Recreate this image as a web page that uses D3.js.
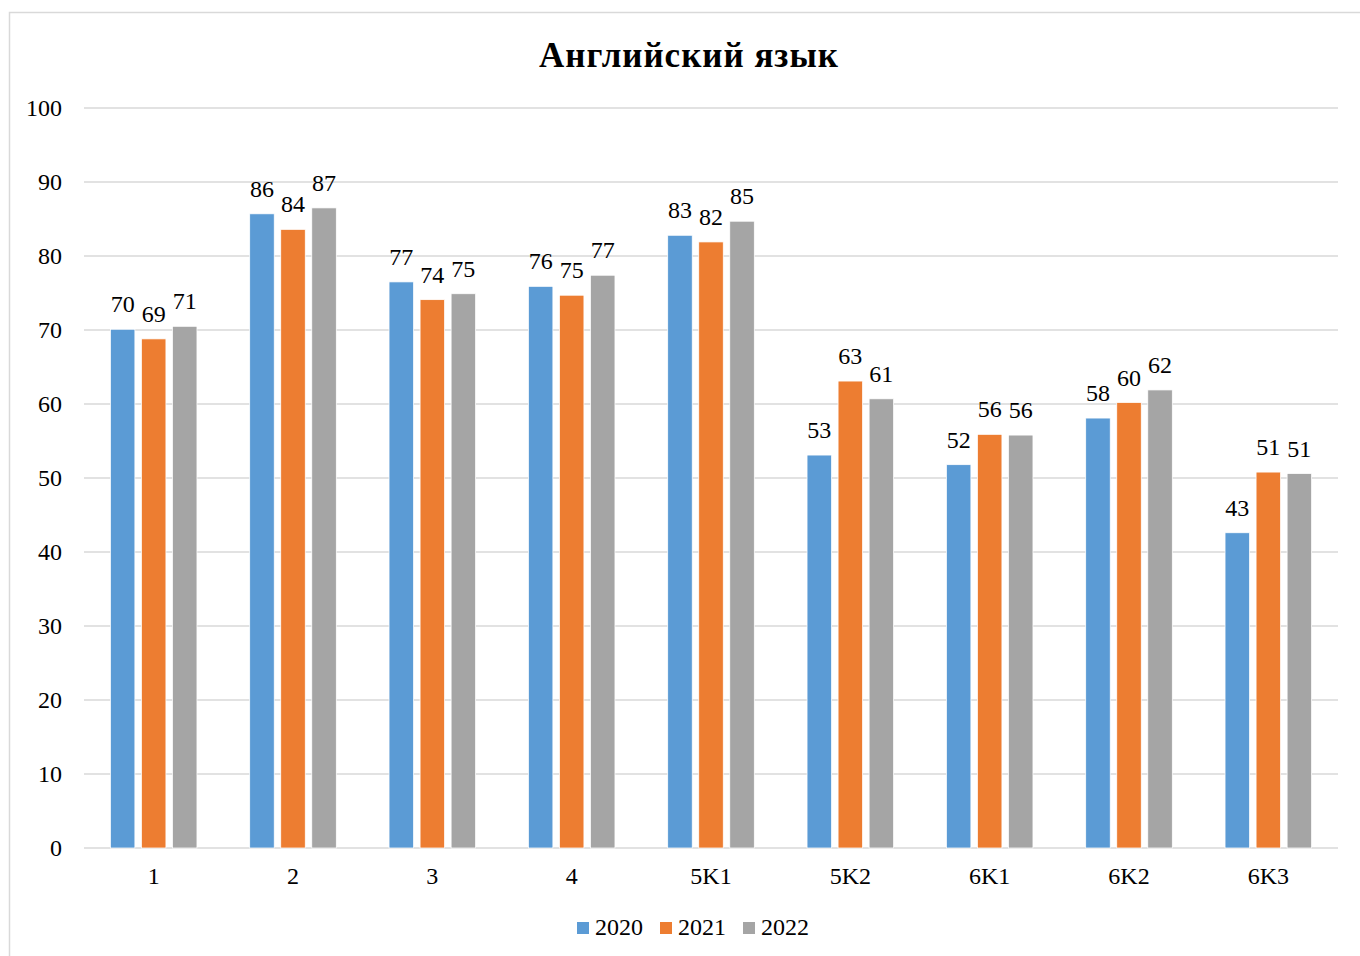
<!DOCTYPE html>
<html>
<head>
<meta charset="utf-8">
<script src="https://cdn.jsdelivr.net/npm/d3@7"></script>
<style>
  body { margin: 0; background: #fff; }
  svg { display: block; }
</style>
</head>
<body>
<div id="chart"></div>
<script>
// chart data
var categories = ["1", "2", "3", "4", "5K1", "5K2", "6K1", "6K2", "6K3"]
var years = ["2020", "2021", "2022"]
var values2020 = [70.1, 85.7, 76.5, 75.9, 82.8, 53.1, 51.8, 58.1, 42.6]
var values2021 = [68.8, 83.6, 74.1, 74.7, 81.9, 63.1, 55.9, 60.2, 50.8]
var values2022 = [70.5, 86.5, 74.9, 77.4, 84.7, 60.7, 55.8, 61.9, 50.6]
var yTicks = [0, 10, 20, 30, 40, 50, 60, 70, 80, 90, 100]
var colors = ["#5B9BD5", "#ED7D31", "#A5A5A5"]
var title = "Английский язык"

var width = 1360
var height = 956
var font = "'Liberation Serif', 'Times New Roman', serif"

var svg = d3.select("#chart")
  .append("svg")
  .attr("width", width)
  .attr("height", height)

// outer chart border
svg.append("rect")
  .attr("x", 9.5)
  .attr("y", 12.5)
  .attr("width", 1400)
  .attr("height", 1000)
  .attr("fill", "#fff")
  .attr("stroke", "#d9d9d9")
  .attr("stroke-width", 1.5)

// title
svg.append("text")
  .attr("x", 689)
  .attr("y", 67)
  .attr("text-anchor", "middle")
  .attr("font-family", font)
  .attr("font-size", "35px")
  .attr("letter-spacing", "1px")
  .attr("font-weight", "bold")
  .text(title)

// scales
var x0 = d3.scaleBand()
  .domain(categories)
  .range([84, 1338])

var x1 = d3.scaleBand()
  .domain(years)
  .range([0, x0.bandwidth()])
  .paddingInner(0.21)
  .paddingOuter(0.85)

var y = d3.scaleLinear()
  .domain([0, 100])
  .range([848, 108])

// gridlines
svg.append("g")
  .selectAll("line")
  .data(yTicks)
  .enter()
  .append("line")
  .attr("x1", 84)
  .attr("x2", 1338)
  .attr("y1", function(d) { return y(d) })
  .attr("y2", function(d) { return y(d) })
  .attr("stroke", "#d9d9d9")
  .attr("stroke-width", 1.5)

// y tick labels
svg.append("g")
  .selectAll("text")
  .data(yTicks)
  .enter()
  .append("text")
  .attr("x", 62)
  .attr("y", function(d) { return y(d) + 8 })
  .attr("text-anchor", "end")
  .attr("font-family", font)
  .attr("font-size", "24px")
  .attr("fill", "#000")
  .text(function(d) { return d })

// x tick labels
svg.append("g")
  .selectAll("text")
  .data(categories)
  .enter()
  .append("text")
  .attr("x", function(d) { return x0(d) + x0.bandwidth() / 2 })
  .attr("y", 884)
  .attr("text-anchor", "middle")
  .attr("font-family", font)
  .attr("font-size", "24px")
  .text(function(d) { return d })

// build rows for bars
var series = [values2020, values2021, values2022]
var rows = []
categories.forEach(function(c, i) {
  years.forEach(function(yr, j) {
    rows.push({cat: c, year: yr, value: series[j][i], color: colors[j]})
  })
})

// bars
svg.append("g")
  .selectAll("rect")
  .data(rows)
  .enter()
  .append("rect")
  .attr("x", function(d) { return x0(d.cat) + x1(d.year) })
  .attr("y", function(d) { return y(d.value) })
  .attr("width", x1.bandwidth())
  .attr("height", function(d) { return y(0) - y(d.value) })
  .attr("fill", function(d) { return d.color })
  .attr("stroke", "#fff")
  .attr("stroke-width", 0.75)

// data labels
svg.append("g")
  .selectAll("text")
  .data(rows)
  .enter()
  .append("text")
  .attr("x", function(d) { return x0(d.cat) + x1(d.year) + x1.bandwidth() / 2 })
  .attr("y", function(d) { return y(d.value) - 17 })
  .attr("text-anchor", "middle")
  .attr("font-family", font)
  .attr("font-size", "24px")
  .text(function(d) { return Math.round(d.value) })

// legend
var legendX = [577, 660, 743]
var legend = svg.append("g")
  .selectAll("g")
  .data(years)
  .enter()
  .append("g")
  .attr("transform", function(d, i) { return "translate(" + legendX[i] + ",0)" })

legend.append("rect")
  .attr("x", 0)
  .attr("y", 922)
  .attr("width", 12)
  .attr("height", 12)
  .attr("fill", function(d, i) { return colors[i] })

legend.append("text")
  .attr("x", 18)
  .attr("y", 935)
  .attr("font-family", font)
  .attr("font-size", "24px")
  .text(function(d) { return d })
</script>
</body>
</html>
